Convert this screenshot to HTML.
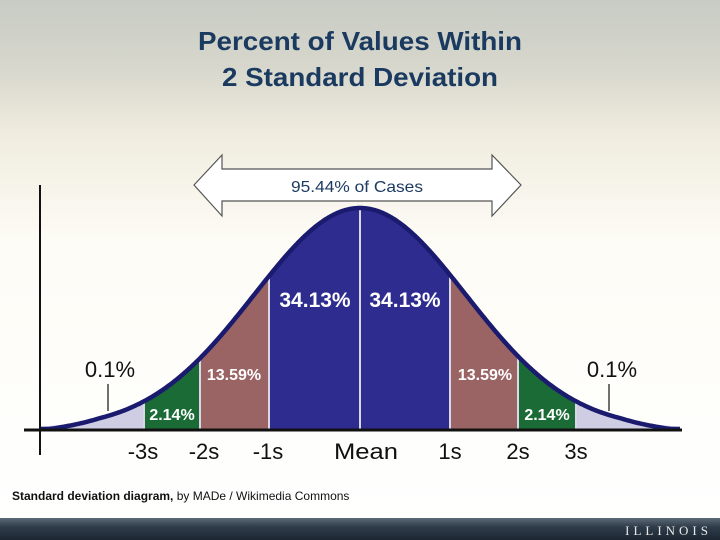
<!DOCTYPE html>
<html><head><meta charset="utf-8"><style>
html,body{margin:0;padding:0;width:720px;height:540px;overflow:hidden}
svg{display:block}
</style></head><body>
<svg id="s" width="720" height="540" xmlns="http://www.w3.org/2000/svg" font-family="Liberation Sans, sans-serif">
<defs>
<linearGradient id="bg" x1="0" y1="0" x2="0" y2="1">
<stop offset="0" stop-color="#c8ccc4"/>
<stop offset="0.12" stop-color="#d6d6cc"/>
<stop offset="0.25" stop-color="#f0ecdf"/>
<stop offset="0.45" stop-color="#fdfcf6"/>
<stop offset="1" stop-color="#ffffff"/>
</linearGradient>
<linearGradient id="bar" x1="0" y1="0" x2="0" y2="1">
<stop offset="0" stop-color="#5d6b78"/>
<stop offset="0.4" stop-color="#2f3d4b"/>
<stop offset="1" stop-color="#1c2631"/>
</linearGradient>
</defs>
<rect width="720" height="540" fill="url(#bg)"/>
<rect y="518" width="720" height="22" fill="url(#bar)"/>
<text x="712" y="535" text-anchor="end" font-family="Liberation Serif, serif" font-size="13" fill="#e8e8e8" letter-spacing="4">ILLINOIS</text>
<g font-weight="bold" fill="#1b3a60" font-size="26" text-anchor="middle">
<text x="360" y="50" textLength="324" lengthAdjust="spacingAndGlyphs">Percent of Values Within</text>
<text x="360" y="86" textLength="276" lengthAdjust="spacingAndGlyphs">2 Standard Deviation</text>
</g>
<path d="M194,185 L222,155 L222,169 L492,169 L492,155 L521,185 L492,216 L492,201 L222,201 L222,216 Z" fill="#fff" stroke="#555" stroke-width="1.2"/>
<text x="357" y="192" text-anchor="middle" font-size="16" fill="#1b3a60" textLength="132" lengthAdjust="spacingAndGlyphs">95.44% of Cases</text>
<g id="curve"></g>
<line x1="40" y1="185" x2="40" y2="455" stroke="#111" stroke-width="2"/>
<line x1="24" y1="430" x2="682" y2="430" stroke="#111" stroke-width="3"/>
<g font-size="22" fill="#111" text-anchor="middle">
<text x="143" y="459">-3s</text><text x="204" y="459">-2s</text><text x="268" y="459">-1s</text>
<text x="366" y="459" textLength="64" lengthAdjust="spacingAndGlyphs">Mean</text><text x="450" y="459">1s</text><text x="518" y="459">2s</text><text x="576" y="459">3s</text>
<text x="110" y="377">0.1%</text><text x="612" y="377">0.1%</text>
</g>
<line x1="108" y1="384" x2="108" y2="411" stroke="#111" stroke-width="1.2"/>
<line x1="609" y1="384" x2="609" y2="411" stroke="#111" stroke-width="1.2"/>
<g font-size="16" font-weight="bold" fill="#fff" text-anchor="middle">
<text x="234" y="380">13.59%</text><text x="485" y="380">13.59%</text>
<text x="172" y="420">2.14%</text><text x="547" y="420">2.14%</text>
</g>
<g font-size="21" font-weight="bold" fill="#fff" text-anchor="middle">
<text x="315" y="307">34.13%</text><text x="405" y="307">34.13%</text>
</g>
<text x="12" y="500" font-size="12" fill="#111"><tspan font-weight="bold">Standard deviation diagram,</tspan> by MADe / Wikimedia Commons</text>
<script>
(function(){
var g=document.getElementById('curve'),NS='http://www.w3.org/2000/svg';
function y(x){return 429-221*Math.exp(-Math.pow(x-360,2)/(2*106*106));}
function area(a,b,c){var d='M'+a+',429';for(var x=a;x<=b;x+=1)d+=' L'+x+','+y(x).toFixed(1);d+=' L'+b+','+y(b).toFixed(1)+' L'+b+',429 Z';
var p=document.createElementNS(NS,'path');p.setAttribute('d',d);p.setAttribute('fill',c);g.appendChild(p);}
area(40,144,'#cfcde3');area(144,200,'#1a6b35');area(200,269,'#9b6464');area(269,450,'#2e2d8f');
area(450,518,'#9b6464');area(518,576,'#1a6b35');area(576,680,'#cfcde3');
[144,200,269,360,450,518,576].forEach(function(x){var l=document.createElementNS(NS,'line');l.setAttribute('x1',x);l.setAttribute('x2',x);l.setAttribute('y1',429);l.setAttribute('y2',y(x)+2);l.setAttribute('stroke','#d8d8e8');l.setAttribute('stroke-width','2');g.appendChild(l);});
var d='M40,429';for(var x=41;x<=680;x++)d+=' L'+x+','+Math.min(429,y(x)+ (Math.abs(x-360)>260?(Math.abs(x-360)-260)*0.06:0)).toFixed(1);
var p=document.createElementNS(NS,'path');p.setAttribute('d',d);p.setAttribute('fill','none');p.setAttribute('stroke','#1a1a6e');p.setAttribute('stroke-width','4.5');g.appendChild(p);
})();
</script>
</svg>
</body></html>
